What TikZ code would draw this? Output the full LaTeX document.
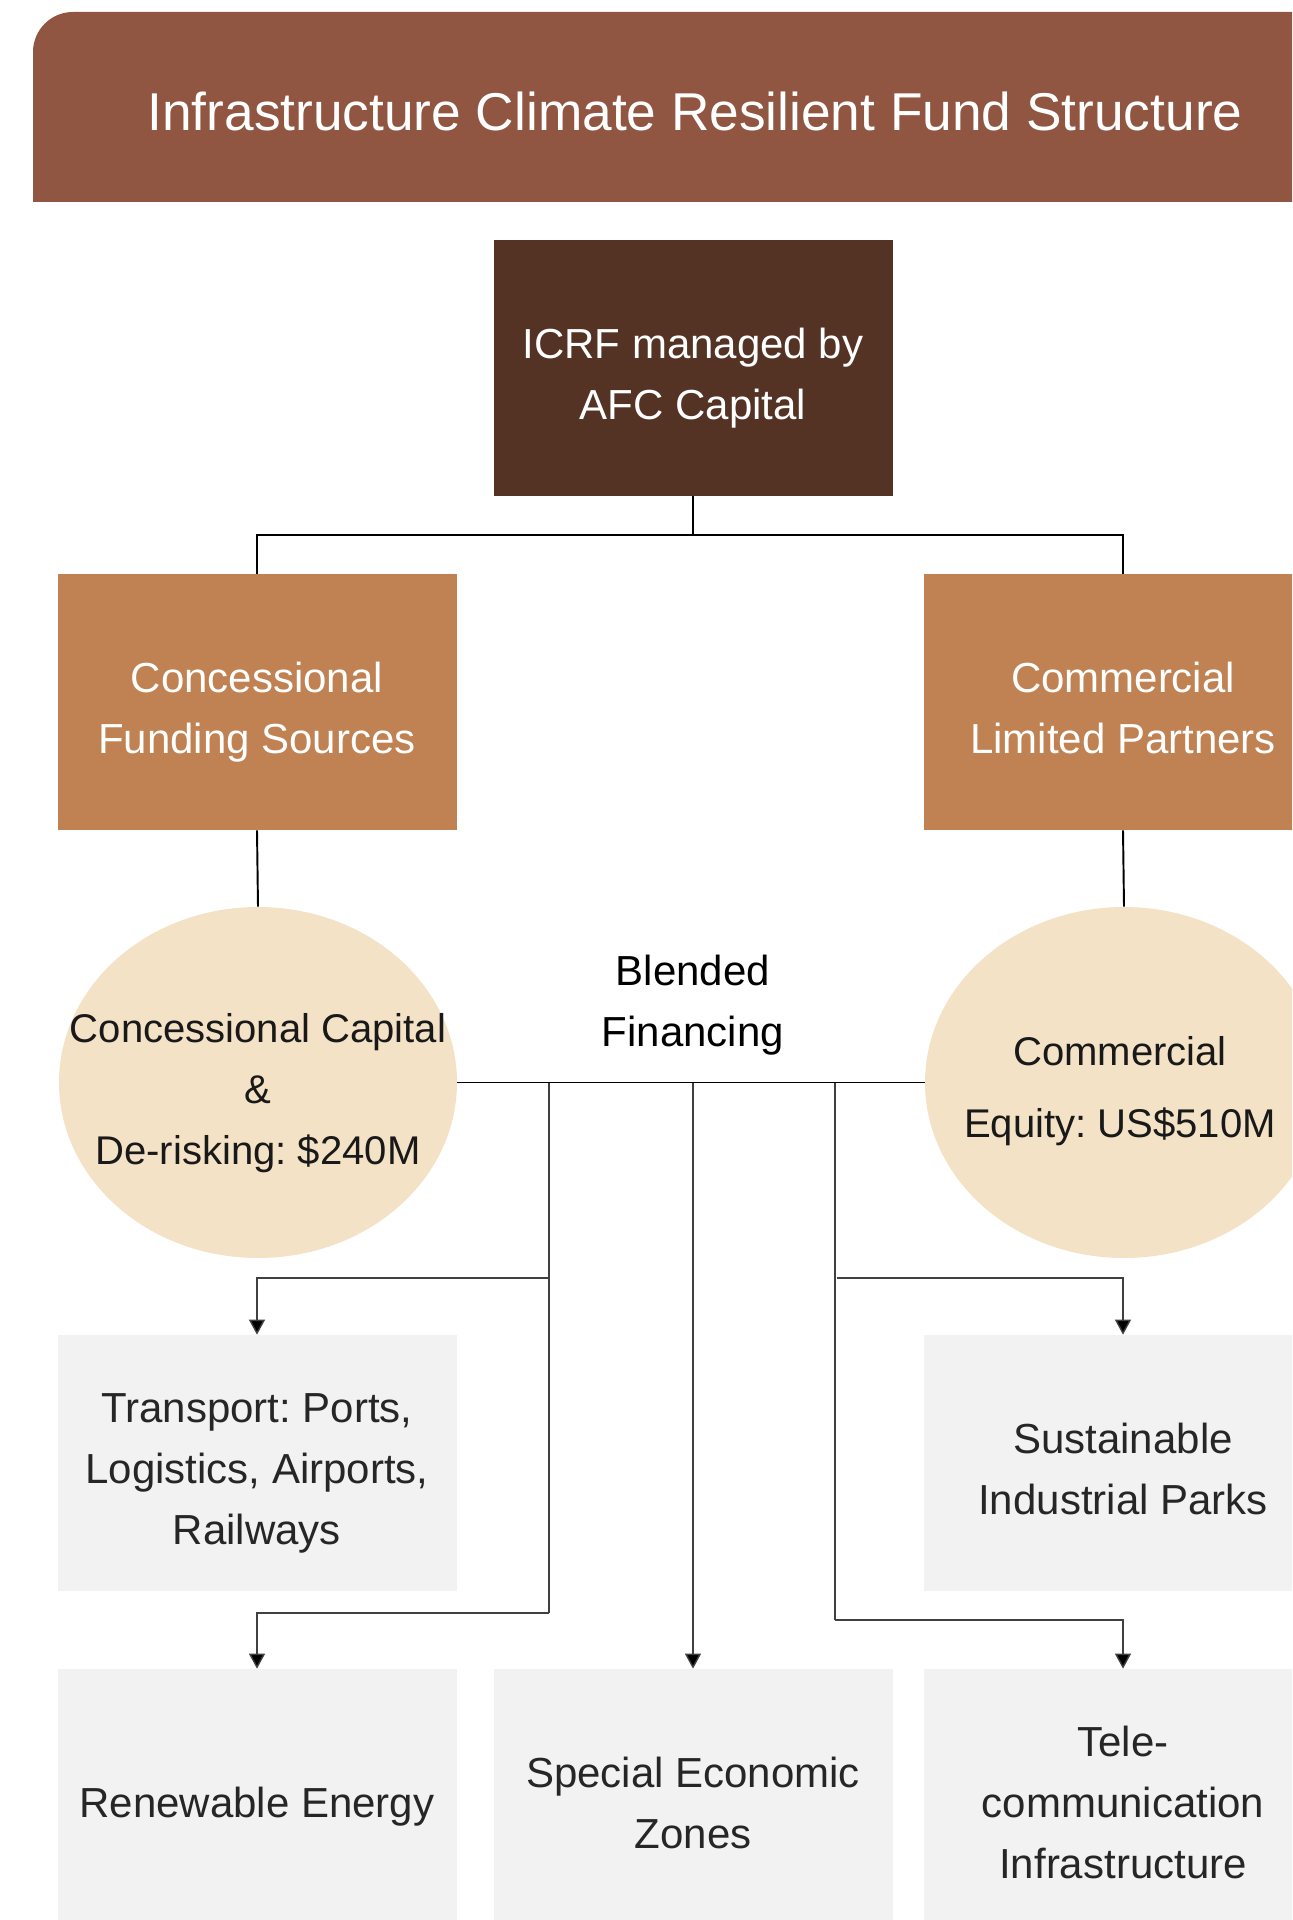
\documentclass[tikz,border=0pt]{standalone}
\usepackage{fontspec}
\setmainfont{Liberation Sans}
\usetikzlibrary{arrows.meta,shapes.geometric}

\definecolor{marronefascia}{RGB}{144,86,65}
\definecolor{marronescuro}{RGB}{84,51,37}
\definecolor{ocra}{RGB}{192,130,82}
\definecolor{sabbia}{RGB}{243,226,198}
\definecolor{grigiochiaro}{RGB}{242,242,242}
\definecolor{grigiotesto}{RGB}{38,38,38}

\begin{document}
\begin{tikzpicture}[
  font=\fontsize{23.9}{34.6}\selectfont\frenchspacing,
  filo/.style={draw=black, line width=1.1pt},
  filosottile/.style={draw=black!75, line width=0.8pt},
  freccia/.style={filosottile, -{Triangle[width=0.32cm, length=0.30cm, fill=black]}},
  testo/.style={inner sep=0pt, align=center, text height=1.02cm, text depth=0.20cm},
  duerighe/.style={text height=2.24cm},
  trerighe/.style={text height=3.46cm},
  scatola/.style={testo, rectangle, minimum width=7.98cm, minimum height=5.12cm},
  gestore/.style={scatola, fill=marronescuro, text=white},
  investitore/.style={scatola, fill=ocra, text=white},
  capitale/.style={ellipse, fill=sabbia, minimum width=7.96cm, minimum height=7.02cm, inner sep=0pt},
  testocapitale/.style={testo, text=black!90, font=\fontsize{22.8}{34.6}\selectfont\frenchspacing},
  settore/.style={scatola, fill=grigiochiaro, text=grigiotesto}
]

\useasboundingbox (0,0) rectangle (25.84,-38.40);
\clip (0,0) rectangle (25.84,-38.40);

%--------------------------------------------------------------
% Fascia del titolo
%--------------------------------------------------------------
\fill[marronefascia] (0.66,-4.04) -- (0.66,-1.04) arc[start angle=180, end angle=90, radius=0.8]
  -- (26.50,-0.24) -- (26.50,-4.04) -- cycle;
\node[text=white, font=\fontsize{30.3}{36}\selectfont] (titolo) at (13.90,-2.22)
  {Infrastructure Climate Resilient Fund Structure};

%--------------------------------------------------------------
% Gestore del fondo e fonti di finanziamento
%--------------------------------------------------------------
\node[gestore, duerighe] (icrf) at (13.86,-7.36) {ICRF managed by\\AFC Capital};
\node[investitore, duerighe] (concessionale) at (5.14,-14.04) {Concessional\\Funding Sources};
\node[investitore, duerighe] (commerciale) at (22.46,-14.04) {Commercial\\Limited Partners};

\coordinate (snodo) at (13.86,-10.70);
\draw[filo] (icrf.south) -- (snodo);
\draw[filo] (concessionale.north) |- (snodo) -| (commerciale.north);

%--------------------------------------------------------------
% Capitale concessionale e capitale commerciale
%--------------------------------------------------------------
\node[capitale] (capconc) at (5.16,-21.65) {};
\node[testocapitale, trerighe] (capconctesto) at (capconc.center) {Concessional Capital\\\&\\De-risking: \$240M};
\node[capitale] (capcomm) at (22.48,-21.65) {};
\node[testocapitale, font=\fontsize{22.8}{40.8}\selectfont\frenchspacing, text height=2.40cm]
  (capcommtesto) at (22.40,-21.65) {Commercial\\Equity: US\$510M};
\draw[filo] (concessionale.south) -- (capconc.north);
\draw[filo] (commerciale.south) -- (capcomm.north);

% finanza mista
\draw[filo] (capconc.east) -- (capcomm.west);
\node[testo, duerighe, text=black] (misto) at (13.86,-19.90) {Blended\\Financing};

%--------------------------------------------------------------
% Settori di investimento
%--------------------------------------------------------------
\node[settore, trerighe] (trasporti) at (5.14,-29.26) {Transport: Ports,\\Logistics, Airports,\\Railways};
\node[settore, duerighe] (parchi) at (22.46,-29.26) {Sustainable\\Industrial Parks};
\node[settore] (rinnovabili) at (5.14,-35.94) {Renewable Energy};
\node[settore, duerighe] (zone) at (13.86,-35.94) {Special Economic\\Zones};
\node[settore, trerighe] (telecom) at (22.46,-35.94) {Tele-\\communication\\Infrastructure};

% ramo sinistro
\coordinate (busSx) at (10.98,-21.65);
\coordinate (diramaSx) at (10.98,-25.56);
\coordinate (baseSx) at (10.98,-32.26);
\draw[filosottile] (busSx) -- (baseSx);
\draw[freccia] (diramaSx) -| (trasporti.north);
\draw[freccia] (baseSx) -| (rinnovabili.north);

% ramo centrale
\coordinate (busCe) at (13.86,-21.65);
\draw[freccia] (busCe) -- (zone.north);

% ramo destro
\coordinate (busDx) at (16.70,-21.65);
\coordinate (diramaDx) at (16.74,-25.56);
\coordinate (baseDx) at (16.70,-32.40);
\draw[filosottile] (busDx) -- (baseDx);
\draw[freccia] (diramaDx) -| (parchi.north);
\draw[freccia] (baseDx) -| (telecom.north);

\end{tikzpicture}
\end{document}
